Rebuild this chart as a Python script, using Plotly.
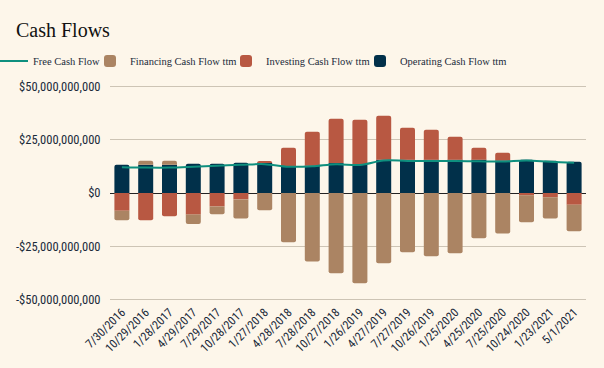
import plotly.graph_objects as go

dates = ["7/30/2016", "10/29/2016", "1/28/2017", "4/29/2017", "7/29/2017", "10/28/2017",
         "1/27/2018", "4/28/2018", "7/28/2018", "10/27/2018", "1/26/2019", "4/27/2019",
         "7/27/2019", "10/26/2019", "1/25/2020", "4/25/2020", "7/25/2020", "10/24/2020",
         "1/23/2021", "5/1/2021"]

# values in billions of dollars
operating = [13.2, 13.2, 13.2, 13.7, 13.7, 14.2, 14.3, 12.4, 12.8, 14.0, 13.2, 15.6,
             15.6, 15.6, 15.6, 15.6, 15.2, 15.6, 15.1, 14.6]
investing = [-8.3, -12.8, -10.9, -10.1, -6.3, -3.0, 0.5, 8.8, 15.8, 20.7, 21.1, 20.5,
             14.9, 14.0, 10.7, 5.6, 3.6, -1.1, -2.0, -5.5]
financing = [-4.5, 1.9, 1.9, -4.4, -3.7, -8.9, -8.1, -23.1, -32.0, -37.6, -42.2, -32.9,
             -27.7, -29.6, -28.2, -21.2, -18.9, -12.6, -9.9, -12.4]
free_cf = [12.1, 11.9, 11.9, 12.3, 12.8, 13.2, 13.5, 12.3, 12.5, 13.5, 13.1, 15.2,
           15.0, 15.0, 15.0, 14.8, 14.7, 15.2, 14.6, 14.2]

tick_vals = [-50e9, -25e9, 0, 25e9, 50e9]
tick_text = ["-$50,000,000,000", "-$25,000,000,000", "$0", "$25,000,000,000", "$50,000,000,000"]

TICK_FONT = "Liberation Sans Narrow, Arial Narrow, Roboto Condensed, Roboto"

B = 1e9
fig = go.Figure()
fig.add_trace(go.Bar(x=dates, y=[v * B for v in operating], name="Operating Cash Flow ttm",
                     legendwidth=120,
                     marker=dict(color="#01304a", line=dict(width=0))))
fig.add_trace(go.Bar(x=dates, y=[v * B for v in investing], name="Investing Cash Flow ttm",
                     legendwidth=89,
                     marker=dict(color="#b85842", line=dict(width=0))))
fig.add_trace(go.Bar(x=dates, y=[v * B for v in financing], name="Financing Cash Flow ttm",
                     legendwidth=91,
                     marker=dict(color="#ab8463", line=dict(width=0))))
fig.add_trace(go.Scatter(x=dates, y=[v * B for v in free_cf], name="Free Cash Flow",
                         legendwidth=52,
                         mode="lines", line=dict(color="#0e8f7e", width=2, shape="spline")))

fig.update_layout(
    width=604, height=368,
    barmode="relative", bargap=0.37, barcornerradius=2,
    paper_bgcolor="#fdf6ea", plot_bgcolor="#fdf6ea",
    margin=dict(l=110, r=18, t=84, b=66, autoexpand=False),
    title=dict(text="Cash Flows", x=16 / 604, xref="container", xanchor="left",
               y=1 - 30 / 368, yref="container", yanchor="middle",
               font=dict(family="Liberation Serif", size=20, color="#111111")),
    legend=dict(orientation="h", traceorder="reversed",
                x=-117 / 476, xref="paper", xanchor="left",
                y=1 + 23 / 218, yref="paper", yanchor="middle",
                font=dict(family="Liberation Serif", size=10.5, color="#1a2a3a"),
                bgcolor="rgba(0,0,0,0)", itemwidth=30),
    showlegend=True,
    font=dict(family=TICK_FONT, size=12.5, color="#1a2a3a"),
)
fig.update_xaxes(type="category", tickangle=-45, showgrid=False, ticks="", showline=False,
                 tickfont=dict(family=TICK_FONT, size=12), automargin=False)
fig.update_yaxes(range=[-51e9, 51e9], tickvals=tick_vals, ticktext=tick_text,
                 gridcolor="#cdc4b5", gridwidth=1, zeroline=True, zerolinecolor="#222222",
                 zerolinewidth=1, tickfont=dict(family=TICK_FONT, size=12.5),
                 ticks="outside", ticklen=6, tickcolor="rgba(0,0,0,0)", showline=False,
                 automargin=False)

fig.write_html("out.html", config={"displayModeBar": False},
               post_script="document.body.style.margin='0';")
